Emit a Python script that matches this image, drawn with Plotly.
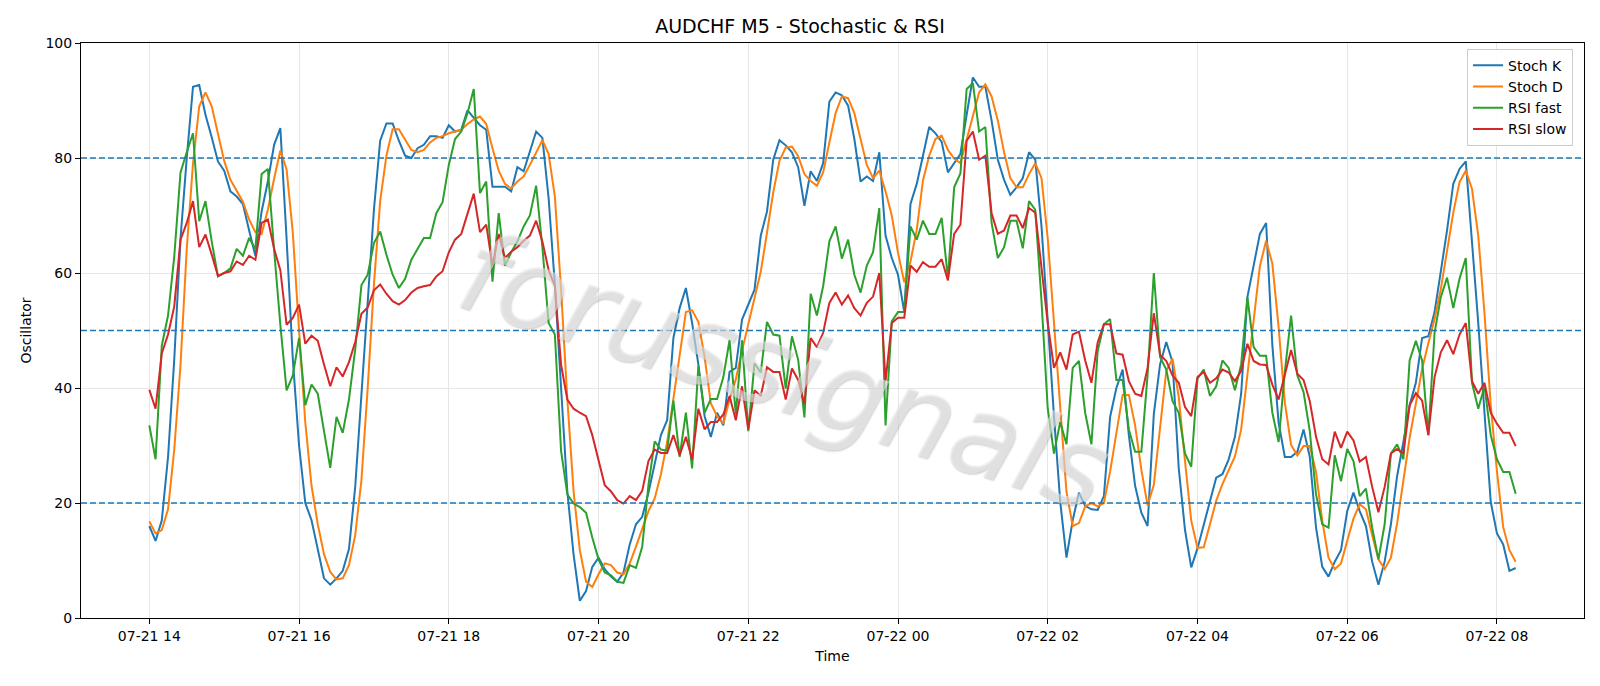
import pandas as pd
import plotly.graph_objects as go

start_time = "2025-07-21 14:00"
n_points = 220
step = "5min"

stoch_k = [
    16, 13.4, 17, 28, 45, 66, 80, 92.4, 92.7, 87.5, 83.6, 79.4, 77.8, 74.2, 73.3, 72, 67.4, 63, 70.7, 75.9, 82.3, 85.2,
    66, 45, 30, 20, 17, 12, 6.9, 5.8, 6.9, 8.2, 12, 22.8, 39, 55, 71, 83, 86, 86, 83, 80.4, 80, 81.7,
    82.3, 83.8, 83.8, 83.5, 85.7, 84.6, 84.9, 88.3, 86.9, 85.7, 84.9, 75, 75, 75, 74.2, 78.4, 77.7, 81, 84.6, 83.5, 73, 58,
    40, 22, 11, 3, 4.7, 8.9, 10.5, 8.5, 7.2, 6.3, 7.9, 12.8, 16.3, 17.6, 21.8, 26.7, 31.8, 34.4, 48.7, 53.9, 57.4, 51.3,
    44.1, 35.1, 31.5, 35.7, 33.5, 42.8, 43.5, 51.9, 54.5, 57.1, 66.5, 70.7, 79.7, 83.1, 82.2, 81, 78.4, 71.7, 77.7, 76, 79.1, 89.8,
    91.4, 90.9, 89.1, 83.3, 75.9, 76.8, 76, 81, 66.5, 62.6, 59.7, 53.2, 72, 75.5, 80.4, 85.4, 84.3, 82.8, 77.5, 79.1, 80.7, 87.5,
    94, 92.4, 92.4, 86.5, 79.7, 76.2, 73.6, 74.9, 76.5, 81, 79.7, 68.1, 51.3, 35.1, 20.2, 10.5, 17, 21.8, 19.5, 18.9, 18.8, 21.2,
    35, 40, 43.2, 31.8, 23, 18.3, 16, 35.4, 44.1, 48, 44.5, 26, 15.3, 8.8, 12.1, 16.3, 20.2, 24.4, 25, 27.6, 31.5, 39,
    55.8, 61.6, 66.8, 68.7, 47.4, 34, 28, 28, 28.9, 32.8, 28, 15.7, 8.9, 7.2, 9.8, 11.8, 18.6, 21.8, 18.6, 16, 9.8, 5.8,
    9.8, 16.3, 24.7, 30.6, 37, 40.9, 48.7, 49, 53.2, 60.3, 67.4, 75.5, 78.1, 79.4, 66, 51.3, 35.7, 20.2, 14.7, 12.8, 8.2, 8.7,
]

stoch_d = [
    16.8, 14.7, 15.3, 18.9, 29.3, 44, 64.2, 79, 89, 91.4, 89, 84.3, 79.5, 76.2, 74.2, 72.4, 69.3, 67.1, 66.8, 71, 76.4, 81.3,
    78, 67, 50, 34, 23, 16.3, 11.1, 8, 6.7, 6.9, 9.2, 14.4, 24, 40, 58, 72.5, 80.4, 85, 85, 83.3, 81.4, 81,
    81.4, 82.7, 83.5, 83.8, 84.3, 84.6, 84.9, 85.9, 86.7, 87.2, 85.9, 81.7, 77.8, 75.5, 74.7, 75.9, 76.8, 78.8, 81, 83.1, 80.7, 73.3,
    57, 38, 22, 11.8, 6.3, 5.4, 7.6, 9.5, 9.2, 7.9, 7.6, 9.5, 12.4, 15.7, 18.6, 20.8, 25, 30.6, 38.3, 46.1, 53.2, 53.5,
    51.5, 45.4, 37.3, 35.1, 33.8, 38, 41.5, 46.5, 51, 55.2, 60.2, 67, 74, 79.5, 81.8, 82, 80.3, 77.2, 76, 75.2, 77.5, 82.7,
    87.8, 90.7, 90.4, 87.8, 83.3, 78.8, 76.5, 77.8, 74.2, 70, 63.5, 58.4, 62, 67.5, 76.1, 80.4, 83.3, 83.9, 81.4, 79.9, 79.1, 83.3,
    87.5, 91.4, 92.8, 90.7, 86.5, 81, 76.5, 74.9, 74.9, 77.2, 79.1, 76.5, 66, 51.5, 35.5, 22, 16, 16.5, 19.4, 20, 19.4, 20,
    25.5, 32.5, 38.8, 38.8, 33.5, 25.8, 19.6, 23.1, 33, 43, 45.1, 38.4, 27.3, 16.9, 12.2, 12.3, 16.3, 20.4, 23.3, 25.8, 28.1, 32.8,
    42.2, 51.3, 61.2, 65.6, 61.6, 50.6, 37.5, 30.1, 28.3, 29.9, 29.9, 25.4, 16.9, 10.5, 8.5, 9.5, 13.2, 17.3, 19.8, 18.9, 14.4, 10.2,
    8.5, 10.5, 16.5, 24, 31.3, 37.3, 43.3, 47.8, 52, 57.2, 63.5, 70.5, 75.8, 77.8, 74.6, 66.5, 53, 37, 25.5, 15.8, 11.8, 9.8,
]

rsi_fast = [
    33.5, 27.6, 47.4, 52.6, 62.9, 77.5, 81, 84.3, 69, 72.5, 65.5, 59.4, 60, 60.8, 64.2, 63, 66.1, 64.2, 77.2, 78.1, 64, 51,
    39.6, 42.2, 48.7, 37, 40.6, 39, 32.5, 26.1, 35, 32.2, 38, 46.7, 57.9, 59.7, 65.2, 67.2, 63.2, 59.7, 57.4, 59, 62.3, 64.2,
    66.1, 66.1, 70.4, 72.3, 78.8, 83.3, 84.6, 87.8, 92, 73.9, 75.9, 58.5, 70.4, 61.3, 63.6, 65.5, 68.1, 70, 75.2, 64.5, 51.3, 49.3,
    29, 21.5, 19.9, 19.3, 18.3, 14, 10.2, 7.9, 7.4, 6.3, 6.1, 9.2, 8.7, 12.4, 23.1, 30.7, 29.3, 29.1, 37.8, 28, 35.7, 26,
    43.8, 35.7, 38.1, 38.1, 41.9, 48.3, 35.4, 48.3, 32.5, 44.3, 42.7, 51.5, 49.3, 49.1, 39.9, 49, 44.9, 34.9, 56.4, 52.6, 57.7, 65.5,
    68.1, 62.5, 65.8, 59.7, 56.6, 61.3, 63.6, 71.3, 33.5, 51.6, 53.2, 53.2, 68.1, 65.8, 69.1, 66.8, 66.8, 69.6, 59, 74.9, 77.3, 92,
    93, 84.6, 85.4, 68.7, 62.6, 64.5, 69.1, 69.1, 64.3, 72.5, 71, 55.1, 36.4, 28.6, 34.1, 30.2, 43.5, 44.7, 35.7, 30.2, 46.4, 51.1,
    52, 41.4, 41.4, 32.8, 28.9, 28.9, 42.2, 60, 45.4, 43.2, 37.7, 35.7, 28.6, 26.3, 41.6, 43.2, 38.6, 40.3, 44.8, 43.5, 39.6, 44.1,
    55.8, 47.1, 45.6, 45.6, 35.7, 30.6, 42.8, 52.6, 42.2, 39.3, 32.5, 21.5, 16.3, 15.7, 28.3, 23.8, 29.4, 27.3, 21.2, 22.5, 15.7, 10.2,
    16.3, 28.6, 30.2, 27.6, 44.8, 48.2, 44.8, 31.8, 49.6, 55.8, 59.2, 53.9, 59, 62.6, 40.9, 36.4, 40.3, 31.8, 27.6, 25.4, 25.4, 21.6,
]

rsi_slow = [
    39.7, 36.4, 46, 49.3, 54.2, 65.8, 68.7, 72.5, 64.5, 66.7, 63.2, 59.5, 60, 60.3, 62, 61.4, 63, 62.3, 68.7, 69.3, 64.2, 60.5,
    51, 52.2, 54.5, 47.7, 49.1, 48.2, 44.1, 40.3, 43.6, 42, 44.5, 48, 52.9, 54, 57, 58, 56.4, 55.1, 54.5, 55.3, 56.6, 57.4,
    57.7, 57.9, 59.4, 60.3, 63.6, 65.8, 66.8, 70.4, 73.8, 67.1, 68.4, 61.3, 66.8, 62.6, 63.7, 64.5, 65.6, 66.5, 69.1, 65.5, 60.5, 57.7,
    44, 38, 36.4, 35.7, 35.1, 31.8, 27.3, 23.1, 22, 20.5, 19.9, 21.2, 20.5, 22.1, 27.3, 29.3, 28.7, 28.7, 31.8, 28.3, 31.5, 27.6,
    36.4, 32.8, 34.1, 34.1, 35.4, 38.6, 34.4, 40.3, 32.8, 39.6, 38.6, 43.6, 42.8, 42.8, 38, 43.4, 41.4, 37.2, 48.7, 47.1, 49.6, 54.8,
    56.6, 54.5, 56.1, 53.9, 52.6, 54.8, 55.9, 60, 41.2, 51.3, 52.2, 52.2, 61.3, 60.2, 61.9, 61.1, 61.1, 62.4, 58.7, 66.8, 68.4, 83,
    84.6, 79.7, 80.4, 70.4, 66.8, 67.4, 70, 70, 67.8, 71.3, 70.5, 60.3, 51.3, 43.5, 46.2, 43.2, 49.3, 49.8, 44.8, 40.9, 47.9, 51.1,
    51.1, 46, 45.8, 41.2, 39, 38.6, 43.5, 53, 45.8, 44.7, 42.2, 40.9, 36.7, 35.1, 41.9, 42.8, 40.9, 41.7, 43.2, 42.7, 41.2, 43,
    47.7, 44.7, 44.1, 44, 40.6, 38, 42.5, 46.6, 42.5, 41.4, 37.7, 31.5, 27.6, 26.7, 32.4, 29.6, 32.4, 30.9, 27.2, 28, 22.8, 18.4,
    22.8, 28.6, 29.4, 28.6, 37, 39.1, 37.8, 31.8, 41.9, 46.2, 48.3, 45.9, 49.3, 51.3, 41.2, 39, 40.9, 35.7, 33.8, 32.2, 32.2, 29.9,
]

levels = [20, 50, 80]
series_names = ["Stoch K", "Stoch D", "RSI fast", "RSI slow"]
series_colors = ["#1f77b4", "#ff7f0e", "#2ca02c", "#d62728"]
y_ticks = [0, 20, 40, 60, 80, 100]

times = pd.date_range(start_time, periods=n_points, freq=step)
span = times[-1] - times[0]
x_lo = times[0] - span * 0.05
x_hi = times[-1] + span * 0.05
x_ticks = pd.date_range("2025-07-21 14:00", "2025-07-22 08:00", freq="2h")

FONT = "DejaVu Sans, Liberation Sans, Arial, sans-serif"

fig = go.Figure()
for name, col, vals in zip(series_names, series_colors, [stoch_k, stoch_d, rsi_fast, rsi_slow]):
    fig.add_trace(go.Scatter(x=times, y=vals, mode="lines", name=name,
                             line=dict(color=col, width=2)))

for lv in levels:
    fig.add_shape(type="line", xref="paper", x0=0, x1=1, yref="y", y0=lv, y1=lv,
                  line=dict(color="#1f77b4", width=1.3, dash="6px,3px"), layer="above")

fig.add_annotation(text="forussignals", xref="paper", yref="paper", x=0.468, y=0.43,
                   showarrow=False, textangle=18,
                   font=dict(family="DejaVu Sans ExtraLight, DejaVu Sans, sans-serif", size=112,
                             weight=200, style="italic",
                             color="rgba(240,240,240,0.55)",
                             shadow="1px 1px 2px rgba(90,90,90,0.55)"))

fig.update_layout(
    width=1600, height=686,
    margin=dict(l=81, r=16, t=43, b=68),
    paper_bgcolor="white", plot_bgcolor="white",
    font=dict(family=FONT, size=14, color="black"),
    title=dict(text="AUDCHF M5 - Stochastic & RSI", x=0.5, xanchor="center",
               y=1 - 26 / 686, yanchor="middle", yref="container",
               font=dict(size=19, color="black")),
    showlegend=True,
    legend=dict(x=0.9927, xanchor="right", y=0.99, yanchor="top",
                bgcolor="rgba(255,255,255,0.85)", bordercolor="#cccccc", borderwidth=1,
                font=dict(size=14), itemwidth=30, tracegroupgap=0),
)

fig.update_xaxes(range=[x_lo, x_hi], tickvals=x_ticks, tickformat="%m-%d %H",
                 showgrid=True, gridcolor="#e6e6e6", gridwidth=1,
                 showline=True, linecolor="black", linewidth=1, mirror=True,
                 ticks="outside", ticklen=5, tickcolor="black", tickfont=dict(size=14),
                 title=dict(text="Time", standoff=8, font=dict(size=14)), zeroline=False)
fig.update_yaxes(range=[0, 100], tickvals=y_ticks,
                 showgrid=True, gridcolor="#e6e6e6", gridwidth=1,
                 showline=True, linecolor="black", linewidth=1, mirror=True,
                 ticks="outside", ticklen=5, tickcolor="black", tickfont=dict(size=14),
                 title=dict(text="Oscillator", standoff=10, font=dict(size=14)), zeroline=False)

fig.write_html("out.html")
